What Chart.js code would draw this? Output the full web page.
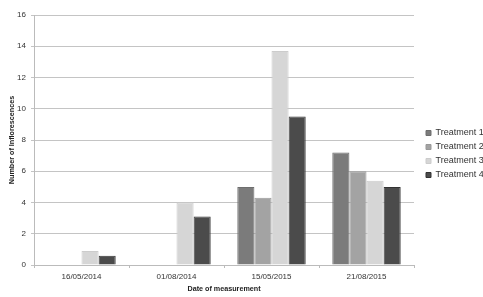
<!DOCTYPE html>
<html>
<head>
<meta charset="utf-8">
<script src="https://cdn.jsdelivr.net/npm/chart.js@4/dist/chart.umd.min.js"></script>
<style>
  html, body { margin: 0; padding: 0; background: #fff; }
  #wrap { width: 483px; height: 297px; position: relative; }
</style>
</head>
<body>
<div id="wrap"><canvas id="chart"></canvas></div>
<script>
// Data
const dates = ['16/05/2014', '01/08/2014', '15/05/2015', '21/08/2015'];
const treatment1 = [0, 0, 5.0, 7.2];
const treatment2 = [0, 0, 4.3, 6.0];
const treatment3 = [0.9, 4.0, 13.7, 5.4];
const treatment4 = [0.6, 3.1, 9.5, 5.0];
const yTicks = [0, 2, 4, 6, 8, 10, 12, 14, 16];

const font = "'Liberation Sans', Arial, sans-serif";

const makeSet = (label, data, color, border) => ({
    label: label,
    data: data,
    backgroundColor: color,
    borderColor: border,
    borderWidth: 1,
    categoryPercentage: 0.72,
    barPercentage: 1.0
});

// Fixed legend width, then nudge it right a little
const legendFix = {
    id: 'legendFix',
    afterInit: (chart) => {
        const lg = chart.legend;
        const origFit = lg.fit;
        lg.fit = function () {
            origFit.call(this);
            this.width = 69;
        };
    },
    afterLayout: (chart) => {
        chart.legend.left += 7;
        chart.legend.right += 7;
    }
};

new Chart(document.getElementById('chart'), {
    type: 'bar',
    data: {
        labels: dates,
        datasets: [
            makeSet('Treatment 1', treatment1, '#7b7b7b', '#6e6e6e'),
            makeSet('Treatment 2', treatment2, '#a3a3a3', '#999999'),
            makeSet('Treatment 3', treatment3, '#d6d6d6', '#cccccc'),
            makeSet('Treatment 4', treatment4, '#4b4b4b', '#333333')
        ]
    },
    plugins: [legendFix],
    options: {
        responsive: true,
        maintainAspectRatio: false,
        animation: false,
        layout: { padding: { left: 8, right: 0, top: 15, bottom: 4 } },
        plugins: {
            tooltip: { enabled: false },
            legend: {
                position: 'right',
                labels: {
                    font: { family: font, size: 9 },
                    color: '#333',
                    boxWidth: 5,
                    boxHeight: 5,
                    padding: 5
                }
            }
        },
        scales: {
            x: {
                afterFit: (axis) => { axis.height = 28; },
                grid: {
                    display: true,
                    drawOnChartArea: false,
                    drawTicks: true,
                    tickLength: 3,
                    offset: true,
                    color: '#bbbbbb'
                },
                border: { color: '#bbbbbb' },
                ticks: {
                    font: { family: font, size: 8 },
                    color: '#333',
                    maxRotation: 0,
                    padding: 4
                },
                title: {
                    display: true,
                    text: 'Date of measurement',
                    font: { family: font, size: 7.2, weight: 'bold' },
                    color: '#222',
                    padding: { top: 1, bottom: 0 }
                }
            },
            y: {
                min: 0,
                max: 16,
                afterFit: (axis) => { axis.width = 26; },
                afterBuildTicks: (axis) => {
                    axis.ticks = yTicks.map(v => ({ value: v }));
                },
                grid: {
                    color: '#c4c4c4',
                    lineWidth: 1,
                    tickLength: 3
                },
                border: { color: '#bbbbbb' },
                ticks: {
                    font: { family: font, size: 8 },
                    color: '#333',
                    padding: 5
                },
                title: {
                    display: true,
                    text: 'Number of Inflorescences',
                    font: { family: font, size: 7.2, weight: 'bold' },
                    color: '#222',
                    padding: { top: 0, bottom: 1 }
                }
            }
        }
    }
});
</script>
</body>
</html>
